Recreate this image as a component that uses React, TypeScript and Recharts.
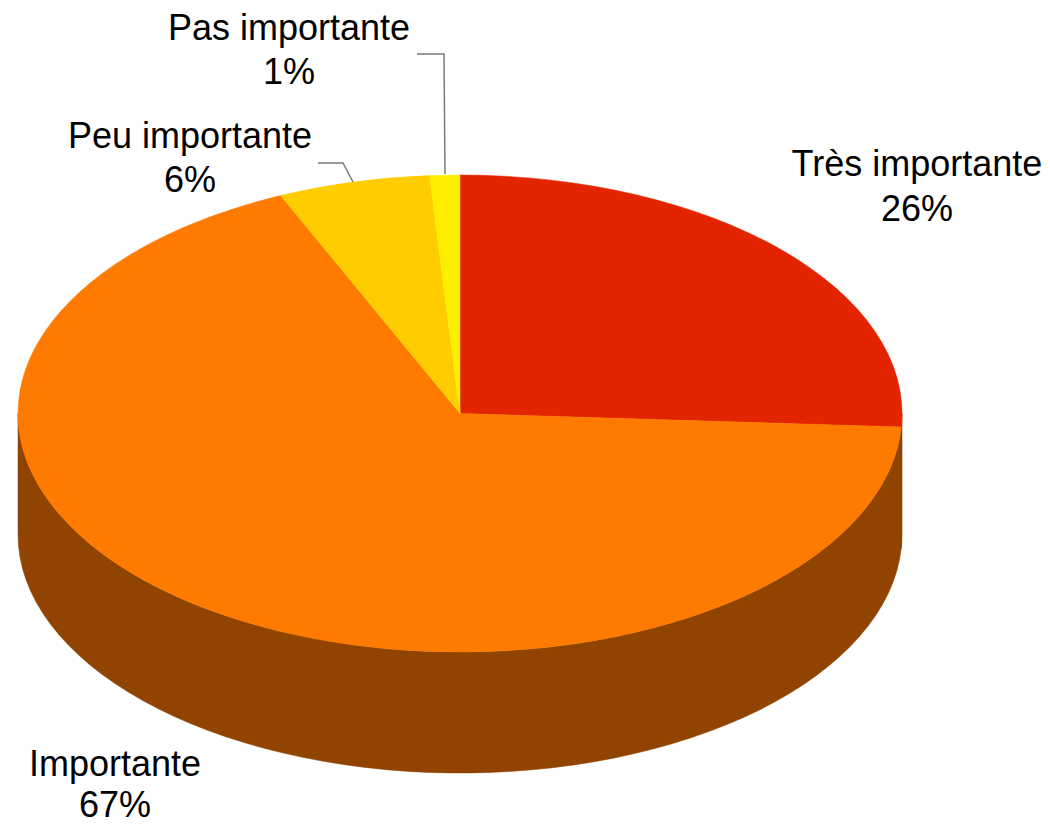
import React from 'react';
import { PieChart, Pie, Cell } from 'recharts';

const categories = ['Très importante', 'Importante', 'Peu importante', 'Pas importante'];
const values = [25.9, 67.45, 5.55, 1.1];
const topColors = ['#E22500', '#FF7B00', '#FFCC00', '#FFEE00'];
const sideColors = ['#8A1800', '#914300', '#9A7A00', '#9A9000'];

const data = categories.map((name, i) => ({ name, value: values[i] }));

const CX = 460;
const CY = 413.5;
const RX = 442;
const RY = 238.5;
const DEPTH = 121;
const RATIO = RY / RX;
const RAD = Math.PI / 180;

const labelLayout = [
  { x: 917, y1: 176, y2: 221, line: null as string | null },
  { x: 115, y1: 776, y2: 817, line: null as string | null },
  { x: 190, y1: 148, y2: 192, line: '318,163 343,163 353,182' },
  { x: 289, y1: 40, y2: 84, line: '417,54 444,54 445,174' },
];

function pt(cx: number, cy: number, rx: number, ry: number, deg: number, dy = 0) {
  return [cx + rx * Math.cos(deg * RAD), cy - ry * Math.sin(deg * RAD) + dy];
}

function EllipseSector(props: any) {
  const { cx, cy, outerRadius, startAngle, endAngle, fill } = props;
  const rx = outerRadius;
  const ry = outerRadius * RATIO;
  const [x1, y1] = pt(cx, cy, rx, ry, startAngle);
  const [x2, y2] = pt(cx, cy, rx, ry, endAngle);
  const span = Math.abs(endAngle - startAngle);
  const large = span > 180 ? 1 : 0;
  const sweep = endAngle < startAngle ? 1 : 0;
  const d = `M${cx},${cy} L${x1},${y1} A${rx},${ry} 0 ${large} ${sweep} ${x2},${y2} Z`;
  return <path d={d} fill={fill} stroke={fill} strokeWidth={0.5} />;
}

function SideWall(props: any) {
  const { cx, cy, outerRadius, startAngle, endAngle, fill } = props;
  const rx = outerRadius;
  const ry = outerRadius * RATIO;
  const lo = Math.min(startAngle, endAngle);
  const hi = Math.max(startAngle, endAngle);
  const paths: string[] = [];
  for (let k = -2; k <= 2; k++) {
    const s = Math.max(lo, -180 + 360 * k);
    const e = Math.min(hi, 360 * k);
    if (e > s) {
      const [xs, ys] = pt(cx, cy, rx, ry, s);
      const [xe, ye] = pt(cx, cy, rx, ry, e);
      paths.push(
        `M${xs},${ys} A${rx},${ry} 0 0 0 ${xe},${ye} L${xe},${ye + DEPTH} A${rx},${ry} 0 0 1 ${xs},${ys + DEPTH} Z`
      );
    }
  }
  return (
    <g>
      {paths.map((d, i) => (
        <path key={i} d={d} fill={fill} stroke={fill} strokeWidth={0.5} />
      ))}
    </g>
  );
}

function renderLabel(props: any) {
  const { index, name, percent } = props;
  const l = labelLayout[index];
  if (!l) return null;
  return (
    <g>
      <text x={l.x} y={l.y1} textAnchor="middle" fontFamily="'Liberation Sans', Arial, sans-serif" fontSize={36} fill="#000">
        {name}
      </text>
      <text x={l.x} y={l.y2} textAnchor="middle" fontFamily="'Liberation Sans', Arial, sans-serif" fontSize={36} fill="#000">
        {`${Math.round(percent * 100)}%`}
      </text>
      {l.line && <polyline points={l.line} fill="none" stroke="#7a7a7a" strokeWidth={1.5} />}
    </g>
  );
}

export default function App() {
  return (
    <div style={{ position: 'absolute', left: 0, top: 0, width: 1050, height: 826, background: '#fff' }}>
      <PieChart width={1050} height={826} margin={{ top: 0, right: 0, bottom: 0, left: 0 }}>
        <Pie
          data={data}
          dataKey="value"
          nameKey="name"
          cx={CX}
          cy={CY}
          outerRadius={RX}
          startAngle={90}
          endAngle={-270}
          isAnimationActive={false}
          shape={SideWall}
          activeShape={SideWall}
          inactiveShape={SideWall}
          label={false}
          labelLine={false}
          stroke="none"
        >
          {data.map((d, i) => (
            <Cell key={d.name} fill={sideColors[i]} />
          ))}
        </Pie>
        <Pie
          data={data}
          dataKey="value"
          nameKey="name"
          cx={CX}
          cy={CY}
          outerRadius={RX}
          startAngle={90}
          endAngle={-270}
          isAnimationActive={false}
          shape={EllipseSector}
          activeShape={EllipseSector}
          inactiveShape={EllipseSector}
          label={renderLabel}
          labelLine={false}
          stroke="none"
        >
          {data.map((d, i) => (
            <Cell key={d.name} fill={topColors[i]} />
          ))}
        </Pie>
      </PieChart>
    </div>
  );
}
